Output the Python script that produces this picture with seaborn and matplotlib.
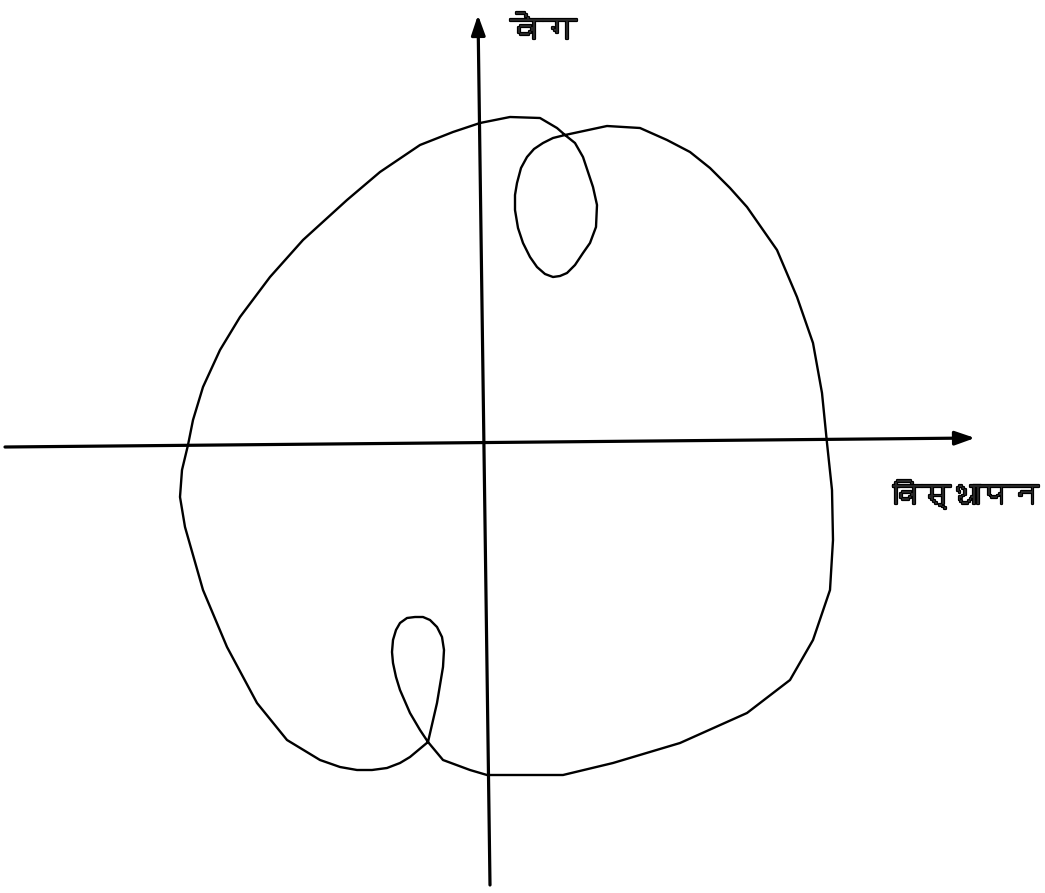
import matplotlib
matplotlib.use("Agg")
import matplotlib.pyplot as plt
import matplotlib.patheffects as pe
from matplotlib import font_manager
from matplotlib.ft2font import FT2Font
import pandas as pd
import seaborn as sns

# ── 数据：相空间轨迹（位移, 速度），按绘制顺序 ──
displacement = [
    -3, 27, 57, 74, 82, 92, 100, 110, 114, 113, 107, 100, 92, 84, 77, 70, 62, 54, 47,
    40, 35, 32, 32, 34, 38, 44, 51, 60, 70, 82,
    124, 157, 184, 207, 227, 247, 264, 294, 314, 330, 339, 344, 349, 350, 347, 330,
    307, 264, 197, 130, 80, 4, -13, -40, -55, -63, -73, -83, -87, -90, -91, -90, -87,
    -83, -76, -68, -60, -53, -46, -41, -39, -40, -43, -46, -55, -73, -83, -96, -111,
    -126, -143, -163, -196, -226, -256, -280, -298, -303,
    -301, -295, -290, -280, -263, -243, -213, -180, -136, -103, -63, -30, -3,
]
velocity = [
    320, 326, 325, 315, 308, 300, 286, 256, 238, 216, 200, 190, 178, 170, 167, 166,
    169, 176, 186, 200, 215, 233, 248, 260, 275, 286, 294, 300, 305, 308,
    317, 315, 303, 291, 275, 255, 236, 193, 146, 100, 50, 0, -47, -97, -147, -197,
    -237, -270, -300, -320, -332, -332, -327, -317, -299, -287, -270, -247, -234,
    -220, -209, -197, -187, -180, -175, -174, -174, -177, -184, -194, -207, -224,
    -242, -260, -299, -314, -320, -325, -327, -327, -324, -317, -297, -260, -204,
    -147, -84, -54, -27, -2, 23, 56, 93, 126, 166, 203, 243, 271, 298, 311, 320,
]

x_label = "विस्थापन"
y_label = "वेग"


def _devanagari_font():
    # 找一个含天城文字形的已安装字体
    for f in font_manager.fontManager.ttflist:
        try:
            if ord("व") in FT2Font(f.fname).get_charmap():
                return f.name
        except Exception:
            continue
    return "DejaVu Sans"


sns.set_theme(style="white")
plt.rcParams["font.family"] = [_devanagari_font(), "DejaVu Sans"]

df = pd.DataFrame({"displacement": displacement, "velocity": velocity})

fig = plt.figure(figsize=(10.45, 8.93), dpi=100)
ax = fig.add_axes([0, 0, 1, 1])
ax.set_xlim(-483, 562)
ax.set_ylim(-450, 443)
ax.set_axis_off()

sns.lineplot(
    data=df, x="displacement", y="velocity",
    sort=False, estimator=None, color="black", linewidth=1.7, ax=ax,
)

arrow = dict(arrowstyle="-|>,head_length=1.0,head_width=0.35", color="black",
             lw=2.3, shrinkA=0, shrinkB=0)
ax.annotate("", xy=(492, 5), xytext=(-478, -4), arrowprops=arrow)
ax.annotate("", xy=(-5, 428), xytext=(7, -442), arrowprops=arrow)

# 字体只有常规字重，用描边加粗
bold = [pe.withStroke(linewidth=1.6, foreground="black")]
ax.text(27, 411, y_label, fontsize=24, va="center", ha="left", path_effects=bold)
ax.text(410, -52, x_label, fontsize=21, va="center", ha="left", path_effects=bold)

fig.savefig("out.png", dpi=100)
